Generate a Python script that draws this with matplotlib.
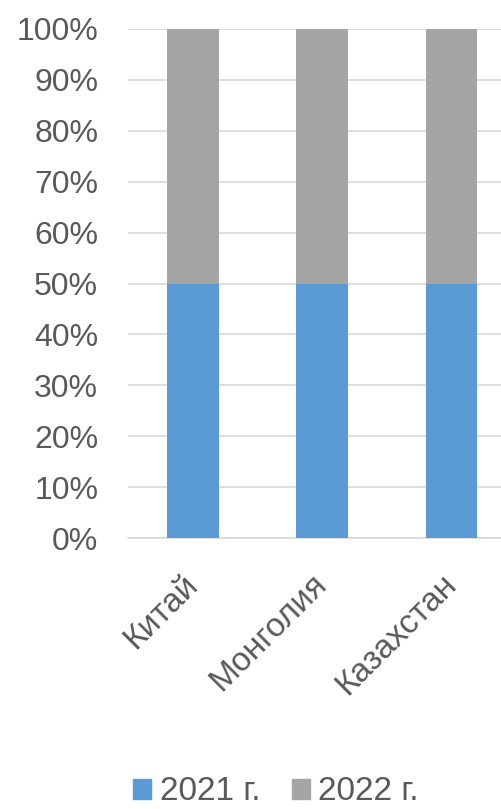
import matplotlib
matplotlib.use("Agg")
import matplotlib.pyplot as plt
from matplotlib.patches import Patch
from matplotlib.ticker import PercentFormatter

categories = ["Китай", "Монголия", "Казахстан"]
share_2021 = [50, 50, 50]
share_2022 = [50, 50, 50]
series_labels = ["2021 г.", "2022 г."]

BLUE = "#5B9BD5"
GREY = "#A5A5A5"
TEXT = "#595959"

plt.rcParams["font.family"] = ["Liberation Sans", "DejaVu Sans"]

fig = plt.figure(figsize=(5.02, 8.09), dpi=100)
W, H = 502, 809
ax = fig.add_axes([128 / W, 1 - 538 / H, (502 - 128) / W, (538 - 29) / H])

x = list(range(len(categories)))
ax.bar(x, share_2021, width=0.4, color=BLUE, zorder=3)
ax.bar(x, share_2022, width=0.4, bottom=share_2021, color=GREY, zorder=3)

ax.set_xlim(-0.5, 2.39)
ax.set_ylim(0, 100)
ax.set_yticks(range(0, 101, 10))
ax.yaxis.set_major_formatter(PercentFormatter(decimals=0))
ax.grid(axis="y", color="#D9D9D9", lw=1.2, zorder=0)
for s in ["top", "right", "left"]:
    ax.spines[s].set_visible(False)
ax.spines["bottom"].set_color("#D9D9D9")
ax.spines["bottom"].set_linewidth(1.2)
ax.tick_params(axis="both", length=0, labelcolor=TEXT)
ax.tick_params(axis="y", pad=21.5, labelsize=23)

ax.set_xticks(x)
ax.set_xticklabels(categories, rotation=45, ha="right", va="center",
                   rotation_mode="anchor", fontsize=24)
ax.tick_params(axis="x", pad=30)

handles = [Patch(color=BLUE), Patch(color=GREY)]
fig.legend(handles, series_labels, loc="center", bbox_to_anchor=(276 / W, 1 - 792 / H),
           ncol=2, frameon=False, fontsize=24, labelcolor=TEXT,
           handlelength=0.55, handleheight=0.55, handletextpad=0.25, columnspacing=0.95)

fig.savefig("out.png", dpi=100)
